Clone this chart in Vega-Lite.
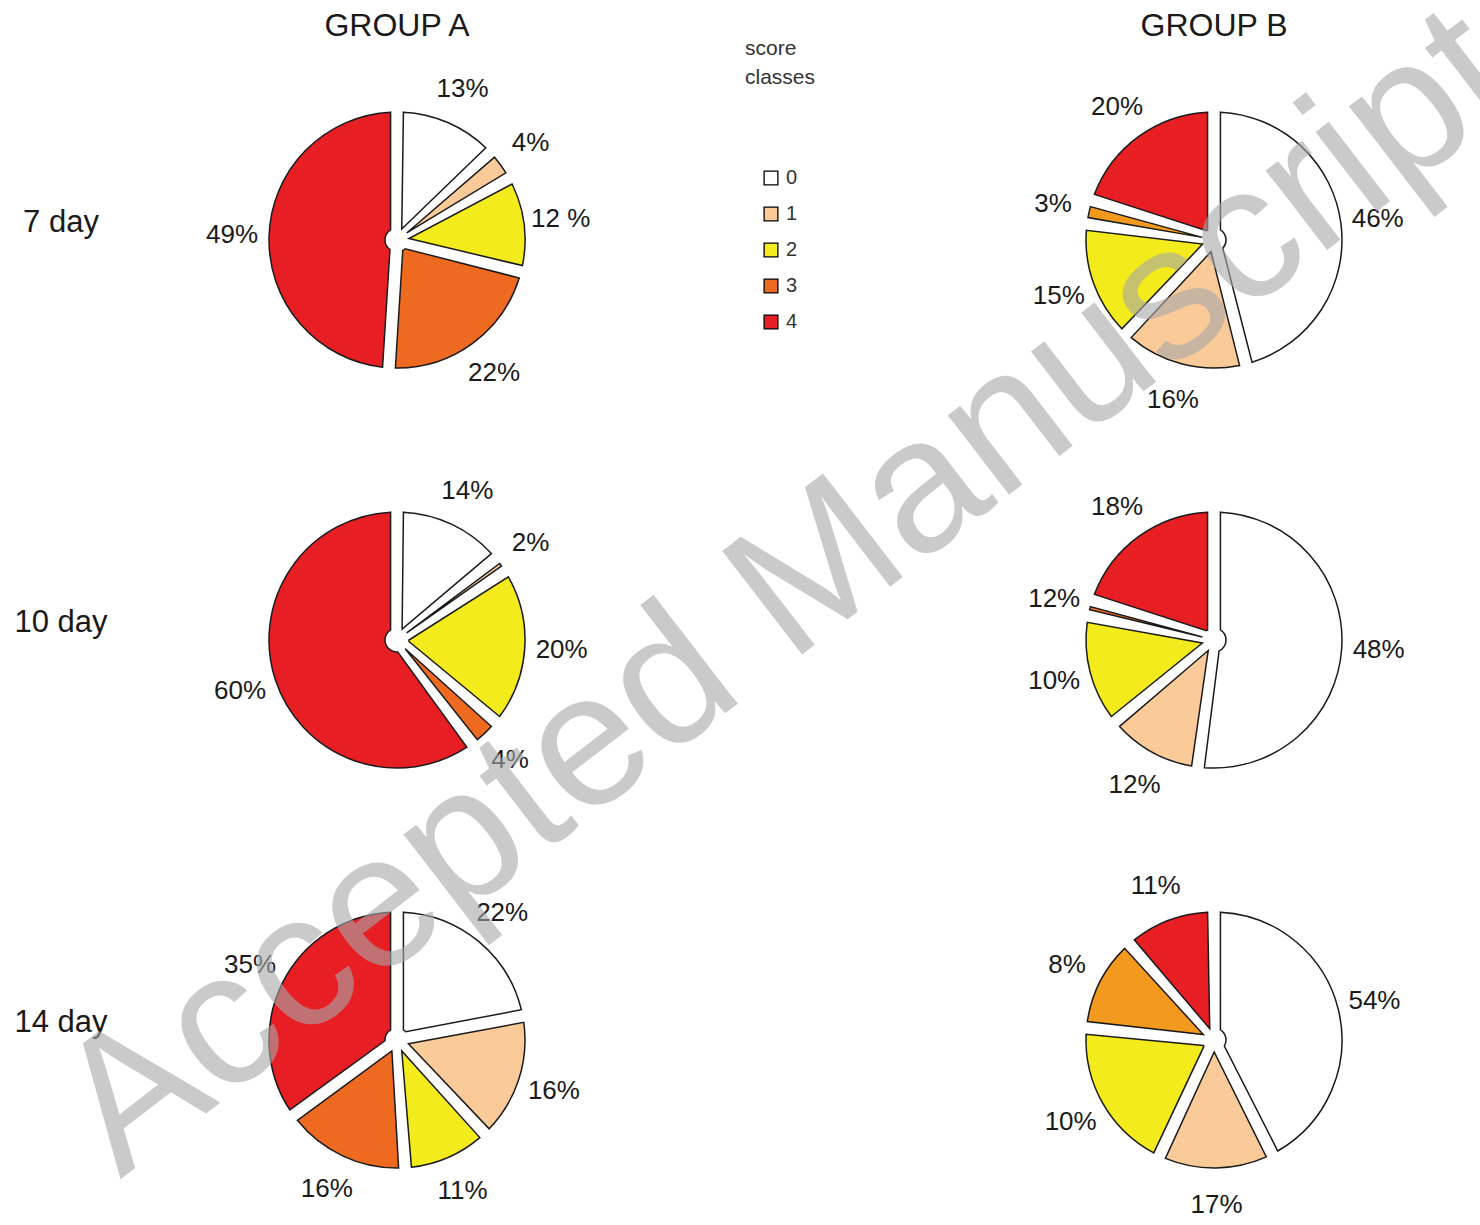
{
  "$schema": "https://vega.github.io/schema/vega-lite/v6.json",
  "padding": {"left": 14, "top": -24, "right": -68, "bottom": 3},
  "bounds": "flush",
  "background": "white",
  "data": {
    "values": [
      {"group": "GROUP A", "day": "7 day", "cls": "0", "share": 13, "label": "13%"},
      {"group": "GROUP A", "day": "7 day", "cls": "1", "share": 4, "label": "4%"},
      {"group": "GROUP A", "day": "7 day", "cls": "2", "share": 12, "label": "12 %"},
      {"group": "GROUP A", "day": "7 day", "cls": "3", "share": 22, "label": "22%"},
      {"group": "GROUP A", "day": "7 day", "cls": "4", "share": 49, "label": "49%"},
      {"group": "GROUP A", "day": "10 day", "cls": "0", "share": 14, "label": "14%"},
      {"group": "GROUP A", "day": "10 day", "cls": "1", "share": 2, "label": "2%"},
      {"group": "GROUP A", "day": "10 day", "cls": "2", "share": 20, "label": "20%"},
      {"group": "GROUP A", "day": "10 day", "cls": "3", "share": 4, "label": "4%"},
      {"group": "GROUP A", "day": "10 day", "cls": "4", "share": 60, "label": "60%"},
      {"group": "GROUP A", "day": "14 day", "cls": "0", "share": 22, "label": "22%"},
      {"group": "GROUP A", "day": "14 day", "cls": "1", "share": 16, "label": "16%"},
      {"group": "GROUP A", "day": "14 day", "cls": "2", "share": 11, "label": "11%"},
      {"group": "GROUP A", "day": "14 day", "cls": "3", "share": 16, "label": "16%"},
      {"group": "GROUP A", "day": "14 day", "cls": "4", "share": 35, "label": "35%"},
      {"group": "GROUP B", "day": "7 day", "cls": "0", "share": 46, "label": "46%"},
      {"group": "GROUP B", "day": "7 day", "cls": "1", "share": 16, "label": "16%"},
      {"group": "GROUP B", "day": "7 day", "cls": "2", "share": 15, "label": "15%"},
      {"group": "GROUP B", "day": "7 day", "cls": "3", "share": 3, "label": "3%"},
      {"group": "GROUP B", "day": "7 day", "cls": "4", "share": 20, "label": "20%"},
      {"group": "GROUP B", "day": "10 day", "cls": "0", "share": 52, "label": "48%"},
      {"group": "GROUP B", "day": "10 day", "cls": "1", "share": 12, "label": "12%"},
      {"group": "GROUP B", "day": "10 day", "cls": "2", "share": 14, "label": "10%"},
      {"group": "GROUP B", "day": "10 day", "cls": "3", "share": 2, "label": "12%"},
      {"group": "GROUP B", "day": "10 day", "cls": "4", "share": 20, "label": "18%"},
      {"group": "GROUP B", "day": "14 day", "cls": "0", "share": 42.5, "label": "54%"},
      {"group": "GROUP B", "day": "14 day", "cls": "1", "share": 14.5, "label": "17%"},
      {"group": "GROUP B", "day": "14 day", "cls": "2", "share": 19.5, "label": "10%"},
      {"group": "GROUP B", "day": "14 day", "cls": "3", "share": 12, "label": "8%"},
      {"group": "GROUP B", "day": "14 day", "cls": "4", "share": 11.5, "label": "11%"},
      {"group": "GROUP A", "day": "14 day", "note": "Accepted Manuscript"}
    ]
  },
  "facet": {
    "row": {
      "field": "day", "type": "nominal", "sort": ["7 day", "10 day", "14 day"], "title": null,
      "header": {"labels": false, "labelPadding": 0}
    },
    "column": {
      "field": "group", "type": "nominal", "title": null,
      "header": {"labelFontSize": 32, "labelFont": "Liberation Sans", "labelColor": "#1a1a1a", "labelPadding": 22}
    }
  },
  "spacing": {"row": 50, "column": 417},
  "spec": {
    "width": 400,
    "height": 350,
    "layer": [
      {
        "transform": [{"filter": "datum.cls != null"}],
        "mark": {"type": "arc", "outerRadius": 128, "innerRadius": 12, "padAngle": 0.1, "stroke": "#1a1a1a", "strokeWidth": 1.5},
        "encoding": {
          "theta": {"field": "share", "type": "quantitative", "stack": true},
          "order": {"field": "cls", "type": "ordinal", "sort": "ascending"},
          "color": {
            "condition": {"test": "datum.group === 'GROUP B' && datum.cls === '3' && datum.day !== '10 day'", "value": "#F39A1E"},
            "field": "cls", "type": "nominal",
            "scale": {"domain": ["0", "1", "2", "3", "4"], "range": ["#FFFFFF", "#FACB98", "#F3EB1B", "#EE6A21", "#E81E25"]},
            "legend": {
              "orient": "none", "legendX": 548, "legendY": -27,
              "title": ["score", "classes"],
              "titleFont": "Liberation Sans", "titleFontSize": 21, "titleFontWeight": "normal", "titleColor": "#333333", "titleLineHeight": 29, "titlePadding": 80,
              "symbolType": "square", "symbolSize": 190, "symbolStrokeColor": "#000000", "symbolStrokeWidth": 1.3, "symbolOffset": 16,
              "labelFont": "Liberation Sans", "labelFontSize": 20, "labelColor": "#333333", "labelOffset": 5, "rowPadding": 16
            }
          }
        }
      },
      {
        "transform": [{"filter": "datum.cls != null"}],
        "mark": {"type": "text", "radius": 165, "fontSize": 26, "font": "Liberation Sans", "color": "#1a1a1a"},
        "encoding": {
          "theta": {"field": "share", "type": "quantitative", "stack": true},
          "order": {"field": "cls", "type": "ordinal", "sort": "ascending"},
          "detail": {"field": "cls", "type": "nominal"},
          "text": {"field": "label", "type": "nominal"}
        }
      },
      {
        "transform": [{"filter": "datum.group === 'GROUP A' && datum.cls === '0'"}],
        "mark": {"type": "text", "fontSize": 31, "font": "Liberation Sans", "align": "center", "baseline": "middle", "color": "#1a1a1a"},
        "encoding": {
          "x": {"datum": -0.34, "type": "quantitative", "scale": {"domain": [0, 1]}, "axis": null},
          "y": {"datum": 0.55, "type": "quantitative", "scale": {"domain": [0, 1]}, "axis": null},
          "text": {"field": "day", "type": "nominal"}
        }
      },
      {
        "transform": [{"filter": "datum.note != null"}],
        "mark": {"type": "text", "fontSize": 190, "font": "Liberation Sans", "angle": -37.6, "align": "center", "baseline": "alphabetic", "color": "#a8a8a8", "opacity": 0.6},
        "encoding": {
          "x": {"datum": 1.565, "type": "quantitative", "scale": {"domain": [0, 1]}, "axis": null},
          "y": {"datum": 1.648, "type": "quantitative", "scale": {"domain": [0, 1]}, "axis": null},
          "text": {"field": "note", "type": "nominal"}
        }
      }
    ]
  },
  "config": {"view": {"stroke": null}}
}
